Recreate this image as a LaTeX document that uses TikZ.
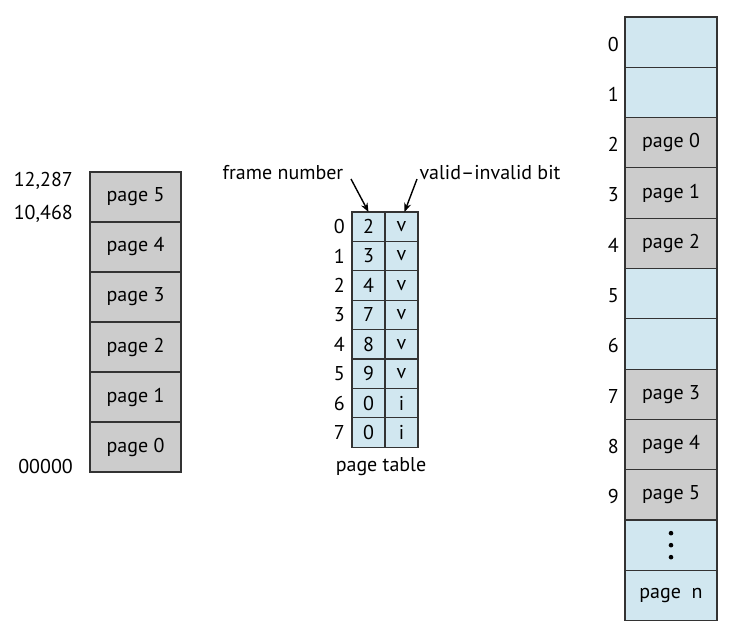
\documentclass[tikz,border=0pt]{standalone}
\usepackage{fontspec}
\setmainfont{PT Sans}
\usetikzlibrary{arrows.meta}
\definecolor{pgray}{HTML}{CCCCCC}
\definecolor{pblue}{HTML}{D1E7F0}
\definecolor{pline}{HTML}{333333}
\begin{document}
\begin{tikzpicture}[x=1pt,y=-1pt,
  cell/.style={draw=pline,line width=1.1pt,minimum width=#1,inner sep=0pt,outer sep=0pt,anchor=north west},
  txt/.style={font=\fontsize{20}{24}\selectfont,inner sep=0pt},
  arr/.style={-{Stealth[length=9pt,width=7pt]},line width=1.4pt,draw=black}]
\useasboundingbox (0,0) rectangle (750,641);
% left logical memory
\foreach \i/\t in {0/5,1/4,2/3,3/2,4/1,5/0}{
  \node[cell=91pt,minimum height=50pt,fill=pgray,txt] (l\t) at (90,172+50*\i) {page \t};
}
\node[txt,anchor=east] (a1) at (73,181) {12,287};
\node[txt,anchor=east] (a2) at (73,214) {10,468};
\node[txt,anchor=east] (a3) at (73,466) {00000};
% page table
\foreach \i/\f/\v in {0/2/v,1/3/v,2/4/v,3/7/v,4/8/v,5/9/v,6/0/i,7/0/i}{
  \node[cell=33pt,minimum height=29.4pt,fill=pblue,txt] (f\i) at (352,212+29.4*\i) {\f};
  \node[cell=33pt,minimum height=29.4pt,fill=pblue,txt] (v\i) at (385,212+29.4*\i) {\v};
  \node[txt,anchor=east] (n\i) at (345,212+29.4*\i+14.7) {\i};
}
\node[txt] (pt) at (381,467) {page table};
\node[txt] (fn) at (283,173) {frame number};
\node[txt] (vb) at (490,173) {valid–invalid bit};
\coordinate (fs) at (351,179);
\coordinate (vs) at (417,179);
\draw[arr] (fs) -- ([xshift=0pt]f0.north);
\draw[arr] (vs) -- ([xshift=3pt]v0.north);
% physical memory
\foreach \i/\t/\c in {0//pblue,1//pblue,2/page 0/pgray,3/page 1/pgray,4/page 2/pgray,5//pblue,6//pblue,7/page 3/pgray,8/page 4/pgray,9/page 5/pgray}{
  \node[cell=92pt,minimum height=50.3pt,fill=\c,txt] (p\i) at (625,17+50.3*\i) {\t};
  \node[txt,anchor=east] (m\i) at (619,17+50.3*\i+27) {\i};
}
\node[cell=92pt,minimum height=50.3pt,fill=pblue] (pd) at (625,17+50.3*10) {};
\foreach \k in {-12,0,12}{
  \fill (pd.center) ++(0,\k) circle (2.3pt);
}
\node[cell=92pt,minimum height=50.3pt,fill=pblue,txt] (pn) at (625,17+50.3*11) {page\ \ n};
\end{tikzpicture}
\end{document}
